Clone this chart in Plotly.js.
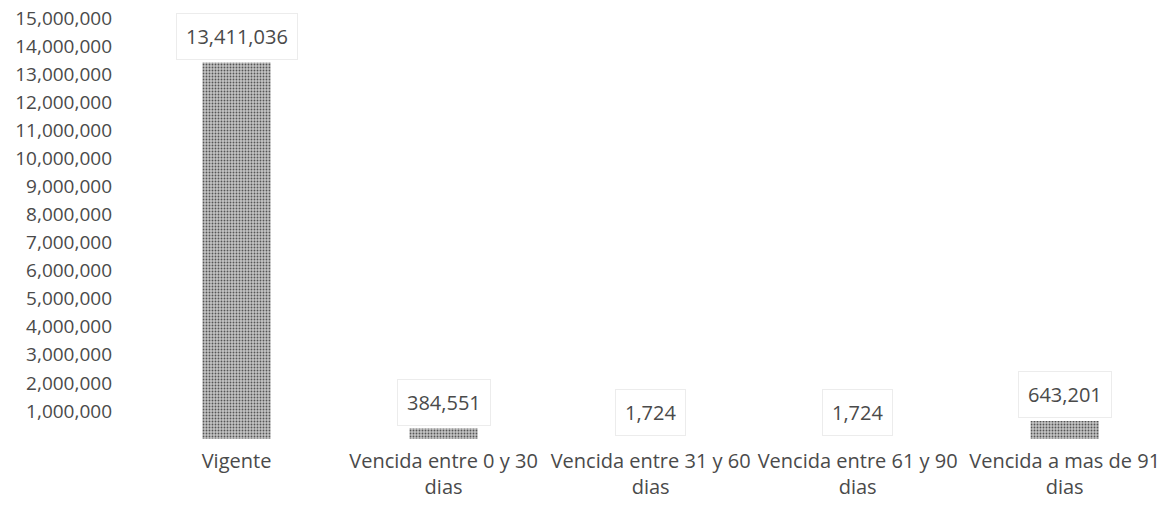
<!DOCTYPE html>
<html>
<head>
<meta charset="utf-8">
<script src="https://cdn.plot.ly/plotly-3.0.1.min.js"></script>
<style>html,body{margin:0;padding:0;background:#fff;}#chart{width:1162px;height:527px;}</style>
</head>
<body>
<div id="chart"></div>
<script>
const categories = [
  "Vigente",
  "Vencida entre 0 y 30<br>dias",
  "Vencida entre 31 y 60<br>dias",
  "Vencida entre 61 y 90<br>dias",
  "Vencida a mas de 91<br>dias"
];
const values = [13411036, 384551, 1724, 1724, 643201];
const valueLabels = ["13,411,036", "384,551", "1,724", "1,724", "643,201"];
const tickVals = [1000000, 2000000, 3000000, 4000000, 5000000, 6000000, 7000000, 8000000,
  9000000, 10000000, 11000000, 12000000, 13000000, 14000000, 15000000];
const tickText = ["1,000,000", "2,000,000", "3,000,000", "4,000,000", "5,000,000", "6,000,000",
  "7,000,000", "8,000,000", "9,000,000", "10,000,000", "11,000,000", "12,000,000",
  "13,000,000", "14,000,000", "15,000,000"];

const FONT = "Open Sans, Liberation Sans, sans-serif";
const TEXT = "#4a4a4a";

const trace = {
  type: "bar",
  x: categories,
  y: values,
  width: 0.33,
  marker: {
    color: "#a0a0a0",
    line: {width: 0},
    pattern: {shape: ".", fgcolor: "#555555", bgcolor: "#c4c4c4", size: 3, solidity: 0.3}
  },
  hoverinfo: "none"
};

const annotations = categories.map((c, i) => ({
  x: c, y: values[i], xref: "x", yref: "y",
  text: valueLabels[i], showarrow: false,
  yanchor: "middle", yshift: 26,
  font: {family: FONT, size: 20, color: TEXT},
  bgcolor: "#ffffff", bordercolor: "#ececec", borderwidth: 1, borderpad: 9
}));

const layout = {
  width: 1162, height: 527,
  margin: {l: 133, r: 0, t: 18, b: 88},
  paper_bgcolor: "#ffffff", plot_bgcolor: "#ffffff",
  showlegend: false,
  font: {family: FONT, size: 20, color: TEXT},
  xaxis: {
    type: "category",
    range: [-0.5, 4.47],
    showgrid: false, zeroline: false, showline: false, ticks: "",
    ticklabelstandoff: 8,
    tickfont: {family: FONT, size: 20, color: TEXT}
  },
  yaxis: {
    range: [0, 15000000],
    tickvals: tickVals, ticktext: tickText,
    showgrid: false, zeroline: false, showline: false, ticks: "",
    ticklabelstandoff: 20,
    tickfont: {family: FONT, size: 19, color: TEXT}
  },
  annotations: annotations
};

Plotly.newPlot("chart", [trace], layout, {displayModeBar: false, staticPlot: true});
</script>
</body>
</html>
